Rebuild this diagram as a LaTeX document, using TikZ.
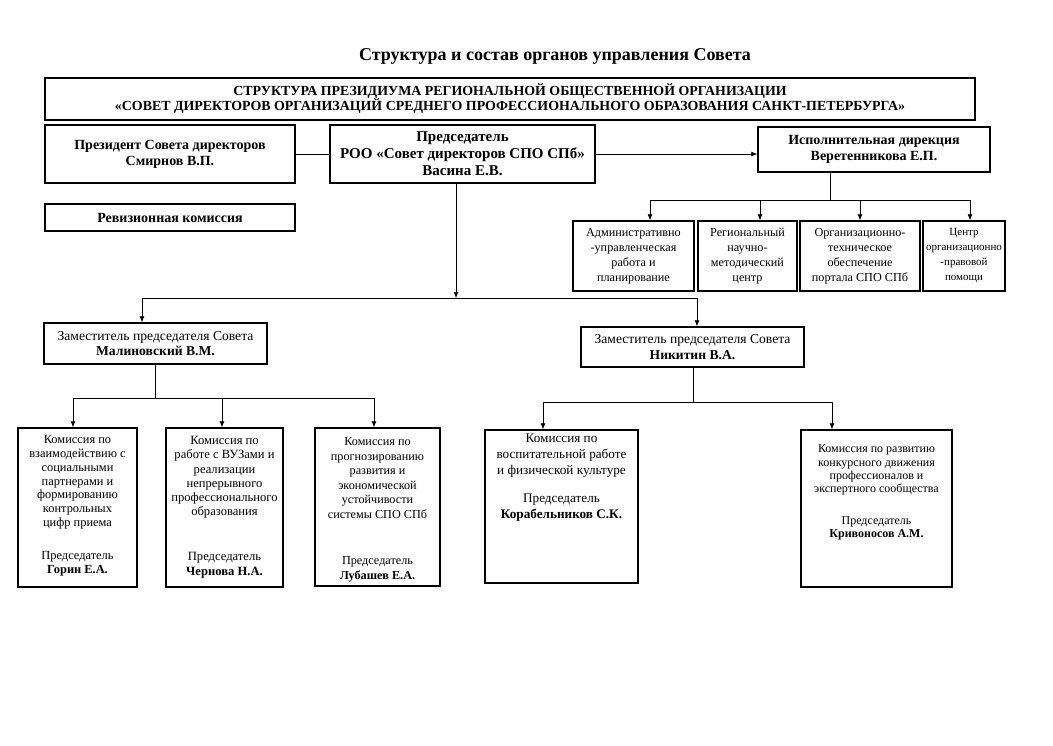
\documentclass[tikz,border=0pt]{standalone}
\usepackage{fontspec}
\setmainfont{Liberation Serif}
\usetikzlibrary{arrows.meta}

\tikzset{
  box/.style={draw, line width=1.4pt, align=center, inner sep=0pt,
    font=\bfseries\fontsize{14}{16}\selectfont},
  subbox/.style={draw, line width=1.4pt, align=center, inner sep=0pt,
    font=\fontsize{12.2}{15}\selectfont},
  combox/.style={draw, line width=1.4pt, inner sep=0pt},
  ctext/.style={anchor=north, align=center, inner sep=0pt},
  link/.style={line width=0.7pt},
  arr/.style={line width=0.7pt, -{Latex[length=6pt,width=5pt]}}
}

\begin{document}
\begin{tikzpicture}[x=1pt,y=-1pt]
  \useasboundingbox (0,0) rectangle (1053,745);
  % Title
  \node[font=\bfseries\fontsize{18}{20}\selectfont] (title) at (555,56)
    {Структура и состав органов управления Совета};
  % Presidium
  \node[box, minimum width=930pt, minimum height=42pt,
    font=\bfseries\fontsize{13.9}{15}\selectfont] (head) at (510,99)
    {СТРУКТУРА ПРЕЗИДИУМА РЕГИОНАЛЬНОЙ ОБЩЕСТВЕННОЙ ОРГАНИЗАЦИИ\\
     «СОВЕТ ДИРЕКТОРОВ ОРГАНИЗАЦИЙ СРЕДНЕГО ПРОФЕССИОНАЛЬНОГО ОБРАЗОВАНИЯ САНКТ-ПЕТЕРБУРГА»};
  \node[box, minimum width=250pt, minimum height=58pt] (pres) at (170,154)
    {Президент Совета директоров\\ Смирнов В.П.};
  \node[box, minimum width=265pt, minimum height=58pt,
    font=\bfseries\fontsize{15}{17}\selectfont] (chair) at (462.5,154)
    {Председатель\\ РОО «Совет директоров СПО СПб»\\ Васина Е.В.};
  \node[box, minimum width=232pt, minimum height=45pt] (exec) at (874,149.5)
    {Исполнительная дирекция\\ Веретенникова Е.П.};
  \node[box, minimum width=250pt, minimum height=27pt] (rev) at (170,217.5)
    {Ревизионная комиссия};
  % Executive units
  \node[subbox, minimum width=121pt, minimum height=70pt] (s1) at (633.5,256)
    {Административно\\ -управленческая\\ работа и\\ планирование};
  \node[subbox, minimum width=99pt, minimum height=70pt] (s2) at (747.5,256)
    {Региональный\\ научно-\\ методический\\ центр};
  \node[subbox, minimum width=120pt, minimum height=70pt] (s3) at (860,256)
    {Организационно-\\ техническое\\ обеспечение\\ портала СПО СПб};
  \node[subbox, minimum width=82pt, minimum height=70pt,
    font=\fontsize{11}{15}\selectfont] (s4) at (964,256)
    {Центр\\ организационно\\ -правовой\\ помощи};
  % Deputies
  \node[subbox, minimum width=223pt, minimum height=41pt,
    font=\fontsize{13.6}{15.5}\selectfont] (dep1) at (155.5,343.5)
    {Заместитель председателя Совета\\ \textbf{Малиновский В.М.}};
  \node[subbox, minimum width=223pt, minimum height=40pt,
    font=\fontsize{13.6}{15.5}\selectfont] (dep2) at (692.5,347)
    {Заместитель председателя Совета\\ \textbf{Никитин В.А.}};
  % Commissions
  \node[combox, minimum width=119pt, minimum height=159pt] (c1) at (77.5,507.5) {};
  \node[combox, minimum width=117pt, minimum height=159pt] (c2) at (224.5,507.5) {};
  \node[combox, minimum width=125pt, minimum height=158pt] (c3) at (377.5,507) {};
  \node[combox, minimum width=153pt, minimum height=153pt] (c4) at (561.5,506.5) {};
  \node[combox, minimum width=151pt, minimum height=157pt] (c5) at (876.5,508.5) {};
  \node[ctext, font=\fontsize{12.4}{13.8}\selectfont] (t1) at (77.5,435.4)
    {Комиссия по\\ взаимодействию с\\ социальными\\ партнерами и\\ формированию\\
     контрольных\\ цифр приема\\[19pt] Председатель\\ \textbf{Горин Е.А.}};
  \node[ctext, font=\fontsize{12.6}{14.2}\selectfont] (t2) at (224.5,436.3)
    {Комиссия по\\ работе с ВУЗами и\\ реализации\\ непрерывного\\
     профессионального\\ образования\\[31pt] Председатель\\ \textbf{Чернова Н.А.}};
  \node[ctext, font=\fontsize{12.2}{14.5}\selectfont] (t3) at (377.5,437.5)
    {Комиссия по\\ прогнозированию\\ развития и\\ экономической\\ устойчивости\\
     системы СПО СПб\\[32pt] Председатель\\ \textbf{Лубашев Е.А.}};
  \node[ctext, font=\fontsize{13.2}{16}\selectfont] (t4) at (561.5,434)
    {Комиссия по\\ воспитательной работе\\ и физической культуре\\[12pt]
     Председатель\\ \textbf{Корабельников С.К.}};
  \node[ctext, font=\fontsize{12}{13.4}\selectfont] (t5) at (876.5,444.6)
    {Комиссия по развитию\\ конкурсного движения\\ профессионалов и\\
     экспертного сообщества\\[18pt] Председатель\\ \textbf{Кривоносов А.М.}};
  % President - Chairman
  \draw[link] (pres) -- (chair);
  % Chairman -> Executive
  \draw[arr] (chair.east) -- (chair.east -| exec.west);
  % Executive -> units
  \coordinate (eb) at (830,200);
  \coordinate (e1) at (650,200);
  \coordinate (e2) at (760,200);
  \coordinate (e3) at (860,200);
  \coordinate (e4) at (970,200);
  \draw[link] (exec.south -| eb) -- (eb);
  \draw[link] (e1) -- (e4);
  \foreach \i in {1,...,4}
    \draw[arr] (e\i) -- (e\i |- s\i.north);
  % Chairman -> deputies
  \coordinate (cb) at (456,298);
  \coordinate (d1) at (142,298);
  \coordinate (d2) at (697,298);
  \draw[arr] (chair.south -| cb) -- (cb);
  \draw[link] (d1) -- (d2);
  \draw[arr] (d1) -- (d1 |- dep1.north);
  \draw[arr] (d2) -- (d2 |- dep2.north);
  % Deputy 1 -> commissions
  \coordinate (mb) at (155,398);
  \coordinate (k1) at (73,398);
  \coordinate (k2) at (222,398);
  \coordinate (k3) at (374,398);
  \draw[link] (dep1.south -| mb) -- (mb);
  \draw[link] (k1) -- (k3);
  \foreach \i in {1,2,3}
    \draw[arr] (k\i) -- (k\i |- c\i.north);
  % Deputy 2 -> commissions
  \coordinate (nb) at (693,402);
  \coordinate (k4) at (543,402);
  \coordinate (k5) at (832,402);
  \draw[link] (dep2.south -| nb) -- (nb);
  \draw[link] (k4) -- (k5);
  \foreach \i in {4,5}
    \draw[arr] (k\i) -- (k\i |- c\i.north);
\end{tikzpicture}
\end{document}
